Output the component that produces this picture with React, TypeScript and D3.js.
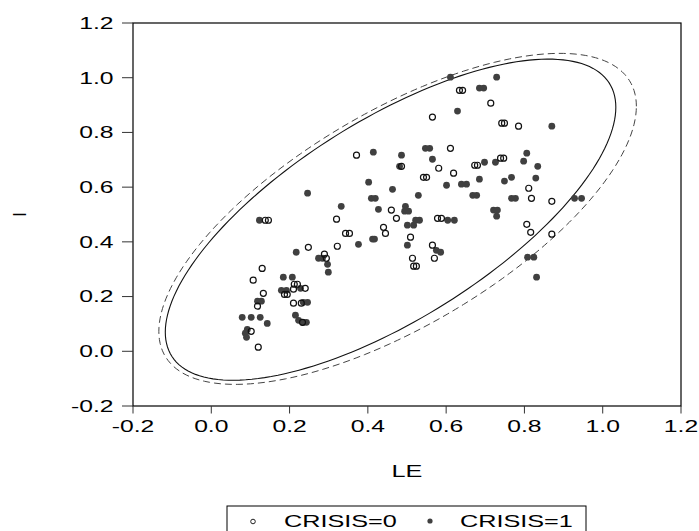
import * as d3 from "d3";

// CRISIS = 0 (open circles)
const LE0 = [
  0.371, 0.138, 0.146, 0.32, 0.343, 0.353, 0.248, 0.322, 0.289, 0.294, 0.13, 0.107, 0.212, 0.22, 0.24,
  0.21, 0.187, 0.194, 0.133, 0.118, 0.21, 0.23, 0.233, 0.102, 0.12, 0.634, 0.642, 0.714, 0.565, 0.742,
  0.749, 0.785, 0.611, 0.581, 0.486, 0.673, 0.68, 0.739, 0.747, 0.619, 0.542, 0.55, 0.811, 0.818, 0.87,
  0.46, 0.473, 0.578, 0.588, 0.44, 0.445, 0.509, 0.806, 0.816, 0.87, 0.565, 0.514, 0.57, 0.517, 0.524,
];
const I0 = [
  0.717, 0.479, 0.479, 0.483, 0.431, 0.431, 0.38, 0.384, 0.355, 0.34, 0.303, 0.26, 0.245, 0.245, 0.23,
  0.227, 0.208, 0.208, 0.212, 0.165, 0.176, 0.176, 0.106, 0.073, 0.015, 0.954, 0.954, 0.907, 0.856, 0.834,
  0.834, 0.823, 0.742, 0.669, 0.676, 0.68, 0.68, 0.706, 0.706, 0.651, 0.636, 0.636, 0.596, 0.559, 0.548,
  0.516, 0.486, 0.486, 0.486, 0.453, 0.431, 0.417, 0.464, 0.435, 0.428, 0.388, 0.34, 0.34, 0.311, 0.311,
];

// CRISIS = 1 (filled dots)
const LE1 = [
  0.414, 0.402, 0.409, 0.419, 0.332, 0.427, 0.246, 0.123, 0.412, 0.417, 0.376, 0.217, 0.274, 0.284, 0.297,
  0.299, 0.184, 0.207, 0.228, 0.179, 0.192, 0.118, 0.128, 0.235, 0.246, 0.079, 0.102, 0.125, 0.143, 0.215,
  0.223, 0.235, 0.243, 0.092, 0.087, 0.09, 0.611, 0.729, 0.685, 0.696, 0.629, 0.87, 0.547, 0.558, 0.486,
  0.565, 0.806, 0.798, 0.481, 0.698, 0.726, 0.834, 0.685, 0.767, 0.749, 0.829, 0.601, 0.639, 0.652, 0.463,
  0.529, 0.668, 0.678, 0.767, 0.777, 0.928, 0.946, 0.496, 0.494, 0.504, 0.721, 0.731, 0.729, 0.522, 0.532,
  0.604, 0.621, 0.501, 0.517, 0.501, 0.575, 0.586, 0.808, 0.824, 0.831,
];
const I1 = [
  0.728, 0.618, 0.559, 0.559, 0.53, 0.519, 0.578, 0.479, 0.41, 0.41, 0.391, 0.362, 0.34, 0.34, 0.318,
  0.289, 0.271, 0.271, 0.23, 0.223, 0.223, 0.183, 0.183, 0.179, 0.179, 0.124, 0.124, 0.124, 0.102, 0.132,
  0.113, 0.106, 0.106, 0.08, 0.066, 0.051, 1.002, 1.002, 0.962, 0.962, 0.878, 0.823, 0.742, 0.742, 0.717,
  0.702, 0.724, 0.695, 0.676, 0.691, 0.691, 0.676, 0.629, 0.636, 0.622, 0.633, 0.607, 0.611, 0.611, 0.592,
  0.57, 0.57, 0.57, 0.559, 0.559, 0.559, 0.559, 0.53, 0.512, 0.512, 0.516, 0.516, 0.494, 0.479, 0.479,
  0.479, 0.479, 0.461, 0.461, 0.388, 0.369, 0.362, 0.344, 0.344, 0.271,
];

const TICKS = [-0.2, 0.0, 0.2, 0.4, 0.6, 0.8, 1.0, 1.2];
const LEGEND = ["CRISIS=0", "CRISIS=1"];

// confidence ellipses [solid, dashed]: centre, half extents, correlation
const ELL_LE = [0.458, 0.476];
const ELL_I = [0.481, 0.484];
const HALF_LE = [0.5755, 0.61];
const HALF_I = [0.587, 0.605];
const RHO = [0.7, 0.68];

const W = 699;
const H = 531;
const FONT = "'Liberation Sans', Arial, sans-serif";

export default function App() {
  const x = d3.scaleLinear().domain([-0.2, 1.2]).range([133, 681]);
  const y = d3.scaleLinear().domain([-0.2, 1.2]).range([406, 23]);

  const angles = d3.range(0, 360, 2).map((a) => (a * Math.PI) / 180);

  const ellipsePath = (k: number) => {
    const pts = angles.map((t) => {
      const u = Math.cos(t);
      const v = Math.sin(t);
      const ex = ELL_LE[k] + HALF_LE[k] * u;
      const ey = ELL_I[k] + HALF_I[k] * (RHO[k] * u + Math.sqrt(1 - RHO[k] * RHO[k]) * v);
      return [x(ex), y(ey)] as [number, number];
    });
    return d3.line().curve(d3.curveLinearClosed)(pts) ?? "";
  };

  const open = LE0.map((v, i) => [v, I0[i]]);
  const filled = LE1.map((v, i) => [v, I1[i]]);

  const fmt = (t: number) => d3.format(".1f")(t).replace("\u2212", "-");

  return (
    <svg
      width={W}
      height={H}
      style={{ position: "absolute", left: 0, top: 0, background: "#fff" }}
      fontFamily={FONT}
    >
      <rect x={0} y={0} width={W} height={H} fill="#fff" />

      {/* ellipses */}
      <path d={ellipsePath(1)} fill="none" stroke="#444" strokeWidth={1} strokeDasharray="7,4" />
      <path d={ellipsePath(0)} fill="none" stroke="#111" strokeWidth={1.1} />

      {/* points */}
      {filled.map(([a, b], i) => (
        <circle key={"f" + i} cx={x(a)} cy={y(b)} r={3.4} fill="#404040" />
      ))}
      {open.map(([a, b], i) => (
        <circle key={"o" + i} cx={x(a)} cy={y(b)} r={3} fill="none" stroke="#111" strokeWidth={1.2} />
      ))}

      {/* frame */}
      <rect x={133} y={23} width={548} height={383} fill="none" stroke="#000" strokeWidth={1.2} />

      {/* y ticks */}
      {TICKS.map((t) => (
        <g key={"y" + t}>
          <line x1={122} x2={133} y1={y(t)} y2={y(t)} stroke="#333" strokeWidth={1} />
          <text
            transform={`translate(113.5,${y(t) + 5.8}) scale(1.515,1)`}
            textAnchor="end"
            fontSize={16.3}
            fill="#000"
          >
            {fmt(t)}
          </text>
        </g>
      ))}

      {/* x ticks */}
      {TICKS.map((t) => (
        <g key={"x" + t}>
          <line x1={x(t)} x2={x(t)} y1={406} y2={413.5} stroke="#333" strokeWidth={1} />
          <text
            transform={`translate(${x(t)},432.3) scale(1.515,1)`}
            textAnchor="middle"
            fontSize={16.3}
            fill="#000"
          >
            {fmt(t)}
          </text>
        </g>
      ))}

      {/* axis titles */}
      <text transform="translate(407,476.7) scale(1.46,1)" textAnchor="middle" fontSize={17.3}>
        LE
      </text>
      <text transform="translate(25.7,214.5) rotate(-90)" textAnchor="middle" fontSize={18}>
        I
      </text>

      {/* legend */}
      <rect x={227} y={506} width={359} height={40} fill="none" stroke="#000" strokeWidth={1} />
      <circle cx={253} cy={521.5} r={2.3} fill="none" stroke="#222" strokeWidth={1} />
      <text transform="translate(284,526.7) scale(1.46,1)" fontSize={17.3}>
        {LEGEND[0]}
      </text>
      <circle cx={430} cy={521} r={2.6} fill="#404040" />
      <text transform="translate(460,526.7) scale(1.46,1)" fontSize={17.3}>
        {LEGEND[1]}
      </text>
    </svg>
  );
}
